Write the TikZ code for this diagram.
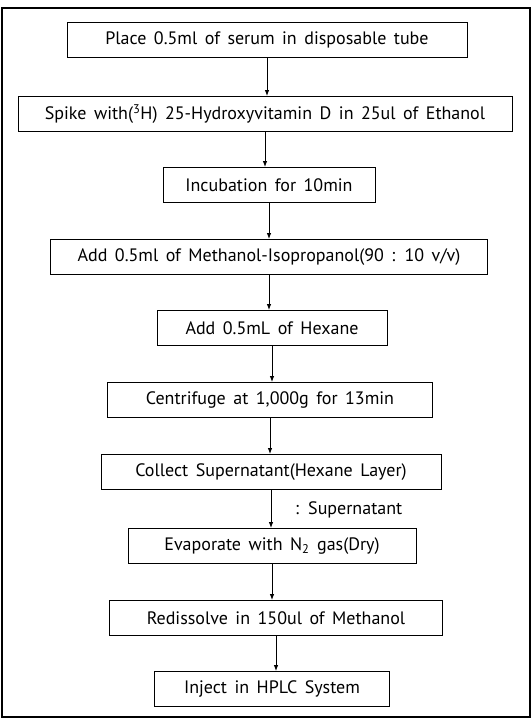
\documentclass[tikz,border=0pt]{standalone}
\usepackage{fontspec}
\setmainfont{PT Sans}
\usetikzlibrary{arrows.meta}
\newcommand{\stagefont}{\fontsize{18}{21}\selectfont\spaceskip=7.5pt plus 2pt minus 1pt\relax}

\begin{document}
\begin{tikzpicture}[x=1pt,y=-1pt,
  stage/.style={draw, line width=0.9pt, minimum height=35pt, inner sep=0pt, font=\stagefont},
  flow/.style={-{Latex[length=6pt,width=4.5pt]}, line width=0.9pt}]
%%%%%%%%%%%%%%%%%%%%%%%%%%%%%%%
% frame
%%%%%%%%%%%%%%%%%%%%%%%%%%%%%%%
\useasboundingbox (0,0) rectangle (532,723);
\draw [line width=1.2pt] (2,8) rectangle (530,717);
%
\node [stage, minimum width=400pt] (place)   at (267,40)  {Place 0.5ml of serum in disposable tube};
\node [stage, minimum width=494pt] (spike)   at (265,114) {Spike with(\textsuperscript{3}H) 25-Hydroxyvitamin D in 25ul of Ethanol};
\node [stage, minimum width=212pt] (incub)   at (269,185) {Incubation for 10min};
\node [stage, minimum width=437pt] (meiso)   at (269,257) {Add 0.5ml of Methanol-Isopropanol(90 : 10 v/v)};
\node [stage, minimum width=230pt] (hexane)  at (272,328) {Add 0.5mL of Hexane};
\node [stage, minimum width=325pt] (centri)  at (270,400) {Centrifuge at 1,000g for 13min};
\node [stage, minimum width=340pt] (collect) at (271,472) {Collect Supernatant(Hexane Layer)};
\node [stage, minimum width=288pt] (evap)    at (272,546) {Evaporate with N\textsubscript{2} gas(Dry)};
\node [stage, minimum width=333pt] (redis)   at (276,618) {Redissolve in 150ul of Methanol};
\node [stage, minimum width=235pt] (inject)  at (272,689) {Inject in HPLC System};
%
\node [anchor=west, inner sep=0pt, font=\stagefont] (super) at (295,510) {: Supernatant};
%
\draw [flow] (place)   -- (place |- spike.north);
\draw [flow] (spike)   -- (spike |- incub.north);
\draw [flow] (incub)   -- (incub |- meiso.north);
\draw [flow] (meiso)   -- (meiso |- hexane.north);
\draw [flow] (hexane)  -- (hexane |- centri.north);
\draw [flow] (centri)  -- (centri |- collect.north);
\draw [flow] (collect) -- (collect |- evap.north);
\draw [flow] (evap)    -- (evap |- redis.north);
\draw [flow] (redis)   -- (redis |- inject.north);
%%%%%%%%%%%%%%%%%%%%%%%%%%%%%%%
\end{tikzpicture}
\end{document}
